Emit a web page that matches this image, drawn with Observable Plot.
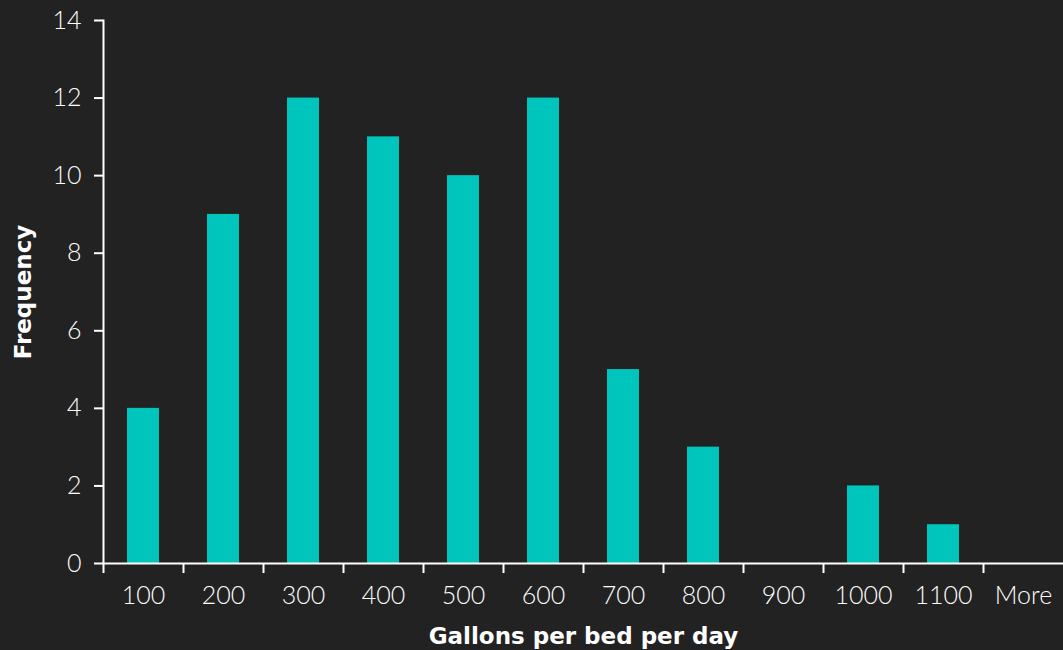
<!DOCTYPE html>
<html>
<head>
<meta charset="utf-8">
<script src="https://cdn.jsdelivr.net/npm/d3@7"></script>
<script src="https://cdn.jsdelivr.net/npm/@observablehq/plot@0.6"></script>
<style>
  html, body { margin: 0; padding: 0; background: #222222; }
  #chart svg { display: block; }
</style>
</head>
<body>
<div id="chart"></div>
<script>
const categories = ["100", "200", "300", "400", "500", "600", "700", "800", "900", "1000", "1100", "More"];
const frequency = [4, 9, 12, 11, 10, 12, 5, 3, 0, 2, 1, 0];
const yTicks = [0, 2, 4, 6, 8, 10, 12, 14];

const data = categories.map((c, i) => ({bin: c, freq: frequency[i]}));

const fontFamily = "Lato, 'Open Sans', 'DejaVu Sans', sans-serif";
const boldFamily = "'DejaVu Sans', Verdana, sans-serif";

const chart = Plot.plot({
  width: 1063,
  height: 650,
  marginLeft: 103,
  marginRight: 0,
  marginTop: 20,
  marginBottom: 87,
  style: {background: "#222222", color: "#ffffff", fontFamily, fontSize: "25px", fontWeight: 300},
  x: {domain: categories, paddingInner: 0.6, paddingOuter: 0.3},
  y: {domain: [0, 14]},
  marks: [
    Plot.barY(data, {x: "bin", y: "freq", fill: "#00C5BC"}),
    Plot.frame({anchor: "left", stroke: "#ffffff", strokeWidth: 2}),
    Plot.frame({anchor: "bottom", stroke: "#ffffff", strokeWidth: 2}),
    Plot.axisY(yTicks, {tickSize: 9, tickPadding: 13, stroke: "#ffffff", strokeWidth: 2, label: null, fontSize: 25}),
    Plot.axisY({ticks: [], label: "Frequency", labelAnchor: "center", labelArrow: "none", labelOffset: 89, fontFamily: boldFamily, fontWeight: "bold", fontSize: 23}),
    Plot.axisX({tickSize: 10, tickFormat: () => "", dx: -40, stroke: "#ffffff", strokeWidth: 2, label: null}),
    Plot.axisX({tickSize: 0, tickPadding: 23, label: null, fontSize: 25}),
    Plot.axisX({ticks: [], label: "Gallons per bed per day", labelAnchor: "center", labelArrow: "none", labelOffset: 80, fontFamily: boldFamily, fontWeight: "bold", fontSize: 23})
  ]
});
document.getElementById("chart").appendChild(chart);
</script>
</body>
</html>
